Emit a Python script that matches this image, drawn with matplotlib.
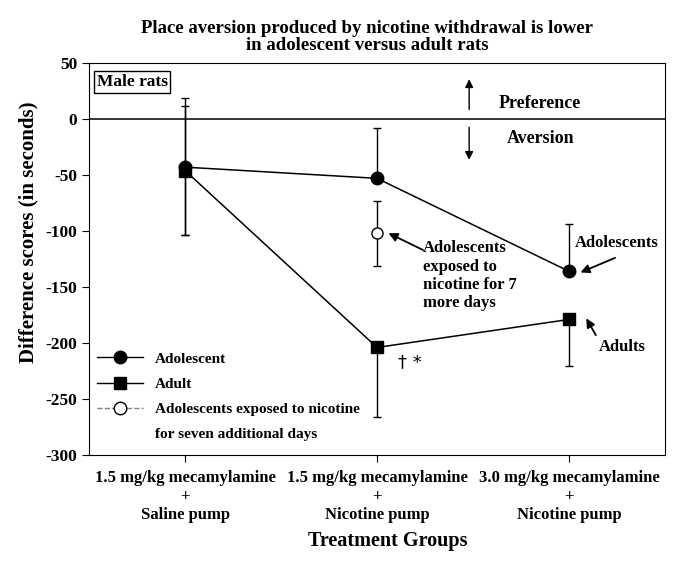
import numpy as np
import matplotlib.pyplot as plt
from matplotlib.lines import Line2D

plt.rcParams['font.family'] = ['Liberation Serif', 'DejaVu Serif']
plt.rcParams['font.weight'] = 'bold'
plt.rcParams['axes.unicode_minus'] = False

groups = ["1.5 mg/kg mecamylamine\n+\nSaline pump",
          "1.5 mg/kg mecamylamine\n+\nNicotine pump",
          "3.0 mg/kg mecamylamine\n+\nNicotine pump"]
x = np.array([1, 2, 3])

adolescent = [-43, -53, -136]
adolescent_up = [62, 45, 42]
adolescent_down = [61, 0, 0]

adult = [-46, -204, -179]
adult_up = [58, 0, 0]
adult_down = [58, 62, 42]

extra_x = [2]
extra = [-102]
extra_err = [29]

fig = plt.figure(figsize=(6.78, 5.70), dpi=100)
ax = fig.add_axes([0.1313, 0.2018, 0.8495, 0.6877])

ax.axhline(0, color='black', lw=1.1, zorder=1)

ax.errorbar(x, adolescent, yerr=[adolescent_down, adolescent_up], fmt='none',
            ecolor='black', elinewidth=1, capsize=3, capthick=1, zorder=2)
ax.errorbar(x, adult, yerr=[adult_down, adult_up], fmt='none',
            ecolor='black', elinewidth=1, capsize=3, capthick=1, zorder=2)
ax.errorbar(extra_x, extra, yerr=extra_err, fmt='none',
            ecolor='black', elinewidth=1, capsize=3, capthick=1, zorder=2)

ax.plot(x, adolescent, '-o', color='black', ms=9, lw=1.1, zorder=3)
ax.plot(x, adult, '-s', color='black', ms=8.5, lw=1.1, zorder=3)
ax.plot(extra_x, extra, 'o', mfc='white', mec='black', ms=8, zorder=4)

ax.set_xlim(0.5, 3.5)
ax.set_ylim(-300, 50)
ax.set_yticks(np.arange(-300, 51, 50))
ax.set_xticks(x)
ax.set_xticklabels(groups, fontsize=12, fontweight='bold', linespacing=1.2)
ax.tick_params(axis='y', labelsize=12.5, direction='out', length=5)
ax.tick_params(axis='x', direction='out', length=5, pad=6)
for lab in ax.get_yticklabels():
    lab.set_fontweight('bold')

fig.text(0.042, 0.593, "Difference scores (in seconds)", fontsize=15, fontweight='bold',
         rotation=90, ha='center', va='center')
fig.text(0.572, 0.051, "Treatment Groups", fontsize=14.5, fontweight='bold',
         ha='center', va='center')

fig.text(0.542, 0.935, "Place aversion produced by nicotine withdrawal is lower\nin adolescent versus adult rats",
         fontsize=13.5, fontweight='bold', ha='center', va='center', linespacing=1.05)

ax.text(0.54, 33, "Male rats", fontsize=12.5, fontweight='bold', va='center', ha='left',
        bbox=dict(boxstyle='square,pad=0.15', fc='white', ec='black', lw=1))

ax.text(2.635, 14, "Preference", fontsize=13, fontweight='bold', ha='left', va='center')
ax.text(2.677, -17, "Aversion", fontsize=13, fontweight='bold', ha='left', va='center')
ax.annotate("", xy=(2.48, 38), xytext=(2.48, 6),
            arrowprops=dict(arrowstyle='-|>', color='black', lw=1, mutation_scale=12))
ax.annotate("", xy=(2.48, -39), xytext=(2.48, -5),
            arrowprops=dict(arrowstyle='-|>', color='black', lw=1, mutation_scale=12))

arrow = dict(arrowstyle='-|>', color='black', lw=1.3, mutation_scale=13, shrinkA=0, shrinkB=0)

ax.text(3.25, -111, "Adolescents", fontsize=12, fontweight='bold', ha='center', va='center')
ax.annotate("", xy=(3.06, -137), xytext=(3.24, -124), arrowprops=arrow)

ax.text(2.24, -140, "Adolescents\nexposed to\nnicotine for 7\nmore days", fontsize=12,
        fontweight='bold', ha='left', va='center', linespacing=1.2)
ax.annotate("", xy=(2.06, -102), xytext=(2.24, -117), arrowprops=arrow)

ax.text(3.28, -204, "Adults", fontsize=12, fontweight='bold', ha='center', va='center')
ax.annotate("", xy=(3.09, -178), xytext=(3.14, -193), arrowprops=arrow)

ax.text(2.11, -217, "\u2020 *", fontsize=13, ha='left', va='center', family='DejaVu Sans',
        fontweight='normal')

handles = [Line2D([], [], color='black', marker='o', ms=9, lw=1),
           Line2D([], [], color='black', marker='s', ms=8.5, lw=1),
           Line2D([], [], color='gray', marker='o', ms=9, mfc='white', mec='black', lw=1,
                  ls='--'),
           Line2D([], [], color='none')]
labels = ["Adolescent", "Adult", "Adolescents exposed to nicotine", "for seven additional days"]
leg = ax.legend(handles, labels, loc='lower left', bbox_to_anchor=(-0.01, 0.0), frameon=False,
                handlelength=3, handletextpad=0.8, labelspacing=0.75,
                prop={'family': 'Liberation Serif', 'weight': 'bold', 'size': 11})

fig.savefig("out.png", dpi=100)
